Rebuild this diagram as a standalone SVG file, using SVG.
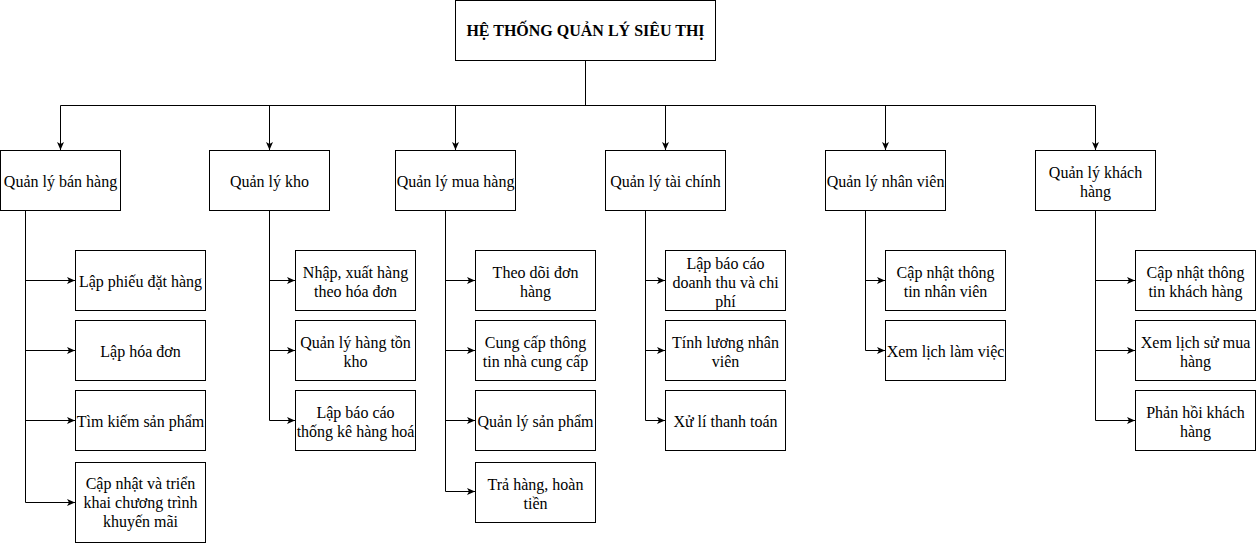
<svg xmlns="http://www.w3.org/2000/svg" width="1257" height="543" viewBox="0 0 1257 543">
<style>
.box{fill:#fff;stroke:#000;stroke-width:1}
.t{font-family:"Liberation Serif","Times New Roman",serif;font-size:16px;fill:#000;text-anchor:middle}
.b{font-weight:bold}
.c{fill:none;stroke:#000;stroke-width:1}
</style>
<defs>
<marker id="arr" markerUnits="userSpaceOnUse" markerWidth="9" markerHeight="8" refX="8" refY="3.5" orient="auto">
<path d="M0,0 L8,3.5 L0,7 L2,3.5 Z" fill="#000"/>
</marker>
</defs>
<rect width="1257" height="543" fill="#fff"/>
<g id="connectors">
<path class="c" d="M585.5,60 V105.5 H60.5 V150" marker-end="url(#arr)"/>
<path class="c" d="M585.5,60 V105.5 H269.5 V150" marker-end="url(#arr)"/>
<path class="c" d="M585.5,60 V105.5 H455.5 V150" marker-end="url(#arr)"/>
<path class="c" d="M585.5,60 V105.5 H665.5 V150" marker-end="url(#arr)"/>
<path class="c" d="M585.5,60 V105.5 H885.5 V150" marker-end="url(#arr)"/>
<path class="c" d="M585.5,60 V105.5 H1095.5 V150" marker-end="url(#arr)"/>
<path class="c" d="M25.5,210 V280.5 H75" marker-end="url(#arr)"/>
<path class="c" d="M25.5,210 V350.5 H75" marker-end="url(#arr)"/>
<path class="c" d="M25.5,210 V420.5 H75" marker-end="url(#arr)"/>
<path class="c" d="M25.5,210 V502.5 H75" marker-end="url(#arr)"/>
<path class="c" d="M269.5,210 V280.5 H295" marker-end="url(#arr)"/>
<path class="c" d="M269.5,210 V350.5 H295" marker-end="url(#arr)"/>
<path class="c" d="M269.5,210 V420.5 H295" marker-end="url(#arr)"/>
<path class="c" d="M445.5,210 V280.5 H475" marker-end="url(#arr)"/>
<path class="c" d="M445.5,210 V350.5 H475" marker-end="url(#arr)"/>
<path class="c" d="M445.5,210 V420.5 H475" marker-end="url(#arr)"/>
<path class="c" d="M445.5,210 V491.5 H475" marker-end="url(#arr)"/>
<path class="c" d="M645.5,210 V280.5 H665" marker-end="url(#arr)"/>
<path class="c" d="M645.5,210 V350.5 H665" marker-end="url(#arr)"/>
<path class="c" d="M645.5,210 V420.5 H665" marker-end="url(#arr)"/>
<path class="c" d="M865.5,210 V280.5 H885" marker-end="url(#arr)"/>
<path class="c" d="M865.5,210 V350.5 H885" marker-end="url(#arr)"/>
<path class="c" d="M1095.5,210 V280.5 H1135" marker-end="url(#arr)"/>
<path class="c" d="M1095.5,210 V350.5 H1135" marker-end="url(#arr)"/>
<path class="c" d="M1095.5,210 V420.5 H1135" marker-end="url(#arr)"/>
</g>
<g id="root"><rect class="box" x="455.5" y="0.5" width="260" height="60"/><text class="t b" x="585.5" y="36">HỆ THỐNG QUẢN LÝ SIÊU THỊ</text></g>
<g id="cat1"><rect class="box" x="0.5" y="150.5" width="120" height="60"/><text class="t" x="60.5" y="187">Quản lý bán hàng</text></g>
<g id="cat2"><rect class="box" x="209.5" y="150.5" width="120" height="60"/><text class="t" x="269.5" y="187">Quản lý kho</text></g>
<g id="cat3"><rect class="box" x="395.5" y="150.5" width="120" height="60"/><text class="t" x="455.5" y="187">Quản lý mua hàng</text></g>
<g id="cat4"><rect class="box" x="605.5" y="150.5" width="120" height="60"/><text class="t" x="665.5" y="187">Quản lý tài chính</text></g>
<g id="cat5"><rect class="box" x="825.5" y="150.5" width="120" height="60"/><text class="t" x="885.5" y="187">Quản lý nhân viên</text></g>
<g id="cat6"><rect class="box" x="1035.5" y="150.5" width="120" height="60"/><text class="t" x="1095.5" y="178">Quản lý khách</text><text class="t" x="1095.5" y="197">hàng</text></g>

<g id="c1a"><rect class="box" x="75.5" y="250.5" width="130" height="60"/><text class="t" x="140.5" y="287">Lập phiếu đặt hàng</text></g>
<g id="c1b"><rect class="box" x="75.5" y="320.5" width="130" height="60"/><text class="t" x="140.5" y="357">Lập hóa đơn</text></g>
<g id="c1c"><rect class="box" x="75.5" y="390.5" width="130" height="60"/><text class="t" x="140.5" y="427">Tìm kiếm sản phẩm</text></g>
<g id="c1d"><rect class="box" x="75.5" y="462.5" width="130" height="80"/><text class="t" x="140.5" y="489">Cập nhật và triển</text><text class="t" x="140.5" y="508">khai chương trình</text><text class="t" x="140.5" y="527">khuyến mãi</text></g>

<g id="c2a"><rect class="box" x="295.5" y="250.5" width="120" height="60"/><text class="t" x="355.5" y="278">Nhập, xuất hàng</text><text class="t" x="355.5" y="297">theo hóa đơn</text></g>
<g id="c2b"><rect class="box" x="295.5" y="320.5" width="120" height="60"/><text class="t" x="355.5" y="348">Quản lý hàng tồn</text><text class="t" x="355.5" y="367">kho</text></g>
<g id="c2c"><rect class="box" x="295.5" y="390.5" width="120" height="60"/><text class="t" x="355.5" y="418">Lập báo cáo</text><text class="t" x="355.5" y="437">thống kê hàng hoá</text></g>

<g id="c3a"><rect class="box" x="475.5" y="250.5" width="120" height="60"/><text class="t" x="535.5" y="278">Theo dõi đơn</text><text class="t" x="535.5" y="297">hàng</text></g>
<g id="c3b"><rect class="box" x="475.5" y="320.5" width="120" height="60"/><text class="t" x="535.5" y="348">Cung cấp thông</text><text class="t" x="535.5" y="367">tin nhà cung cấp</text></g>
<g id="c3c"><rect class="box" x="475.5" y="390.5" width="120" height="60"/><text class="t" x="535.5" y="427">Quản lý sản phẩm</text></g>
<g id="c3d"><rect class="box" x="475.5" y="462.5" width="120" height="60"/><text class="t" x="535.5" y="490">Trả hàng, hoàn</text><text class="t" x="535.5" y="509">tiền</text></g>

<g id="c4a"><rect class="box" x="665.5" y="250.5" width="120" height="60"/><text class="t" x="725.5" y="269">Lập báo cáo</text><text class="t" x="725.5" y="288">doanh thu và chi</text><text class="t" x="725.5" y="307">phí</text></g>
<g id="c4b"><rect class="box" x="665.5" y="320.5" width="120" height="60"/><text class="t" x="725.5" y="348">Tính lương nhân</text><text class="t" x="725.5" y="367">viên</text></g>
<g id="c4c"><rect class="box" x="665.5" y="390.5" width="120" height="60"/><text class="t" x="725.5" y="427">Xử lí thanh toán</text></g>

<g id="c5a"><rect class="box" x="885.5" y="250.5" width="120" height="60"/><text class="t" x="945.5" y="278">Cập nhật thông</text><text class="t" x="945.5" y="297">tin nhân viên</text></g>
<g id="c5b"><rect class="box" x="885.5" y="320.5" width="120" height="60"/><text class="t" x="945.5" y="357">Xem lịch làm việc</text></g>

<g id="c6a"><rect class="box" x="1135.5" y="250.5" width="120" height="60"/><text class="t" x="1195.5" y="278">Cập nhật thông</text><text class="t" x="1195.5" y="297">tin khách hàng</text></g>
<g id="c6b"><rect class="box" x="1135.5" y="320.5" width="120" height="60"/><text class="t" x="1195.5" y="348">Xem lịch sử mua</text><text class="t" x="1195.5" y="367">hàng</text></g>
<g id="c6c"><rect class="box" x="1135.5" y="390.5" width="120" height="60"/><text class="t" x="1195.5" y="418">Phản hồi khách</text><text class="t" x="1195.5" y="437">hàng</text></g>
</svg>
